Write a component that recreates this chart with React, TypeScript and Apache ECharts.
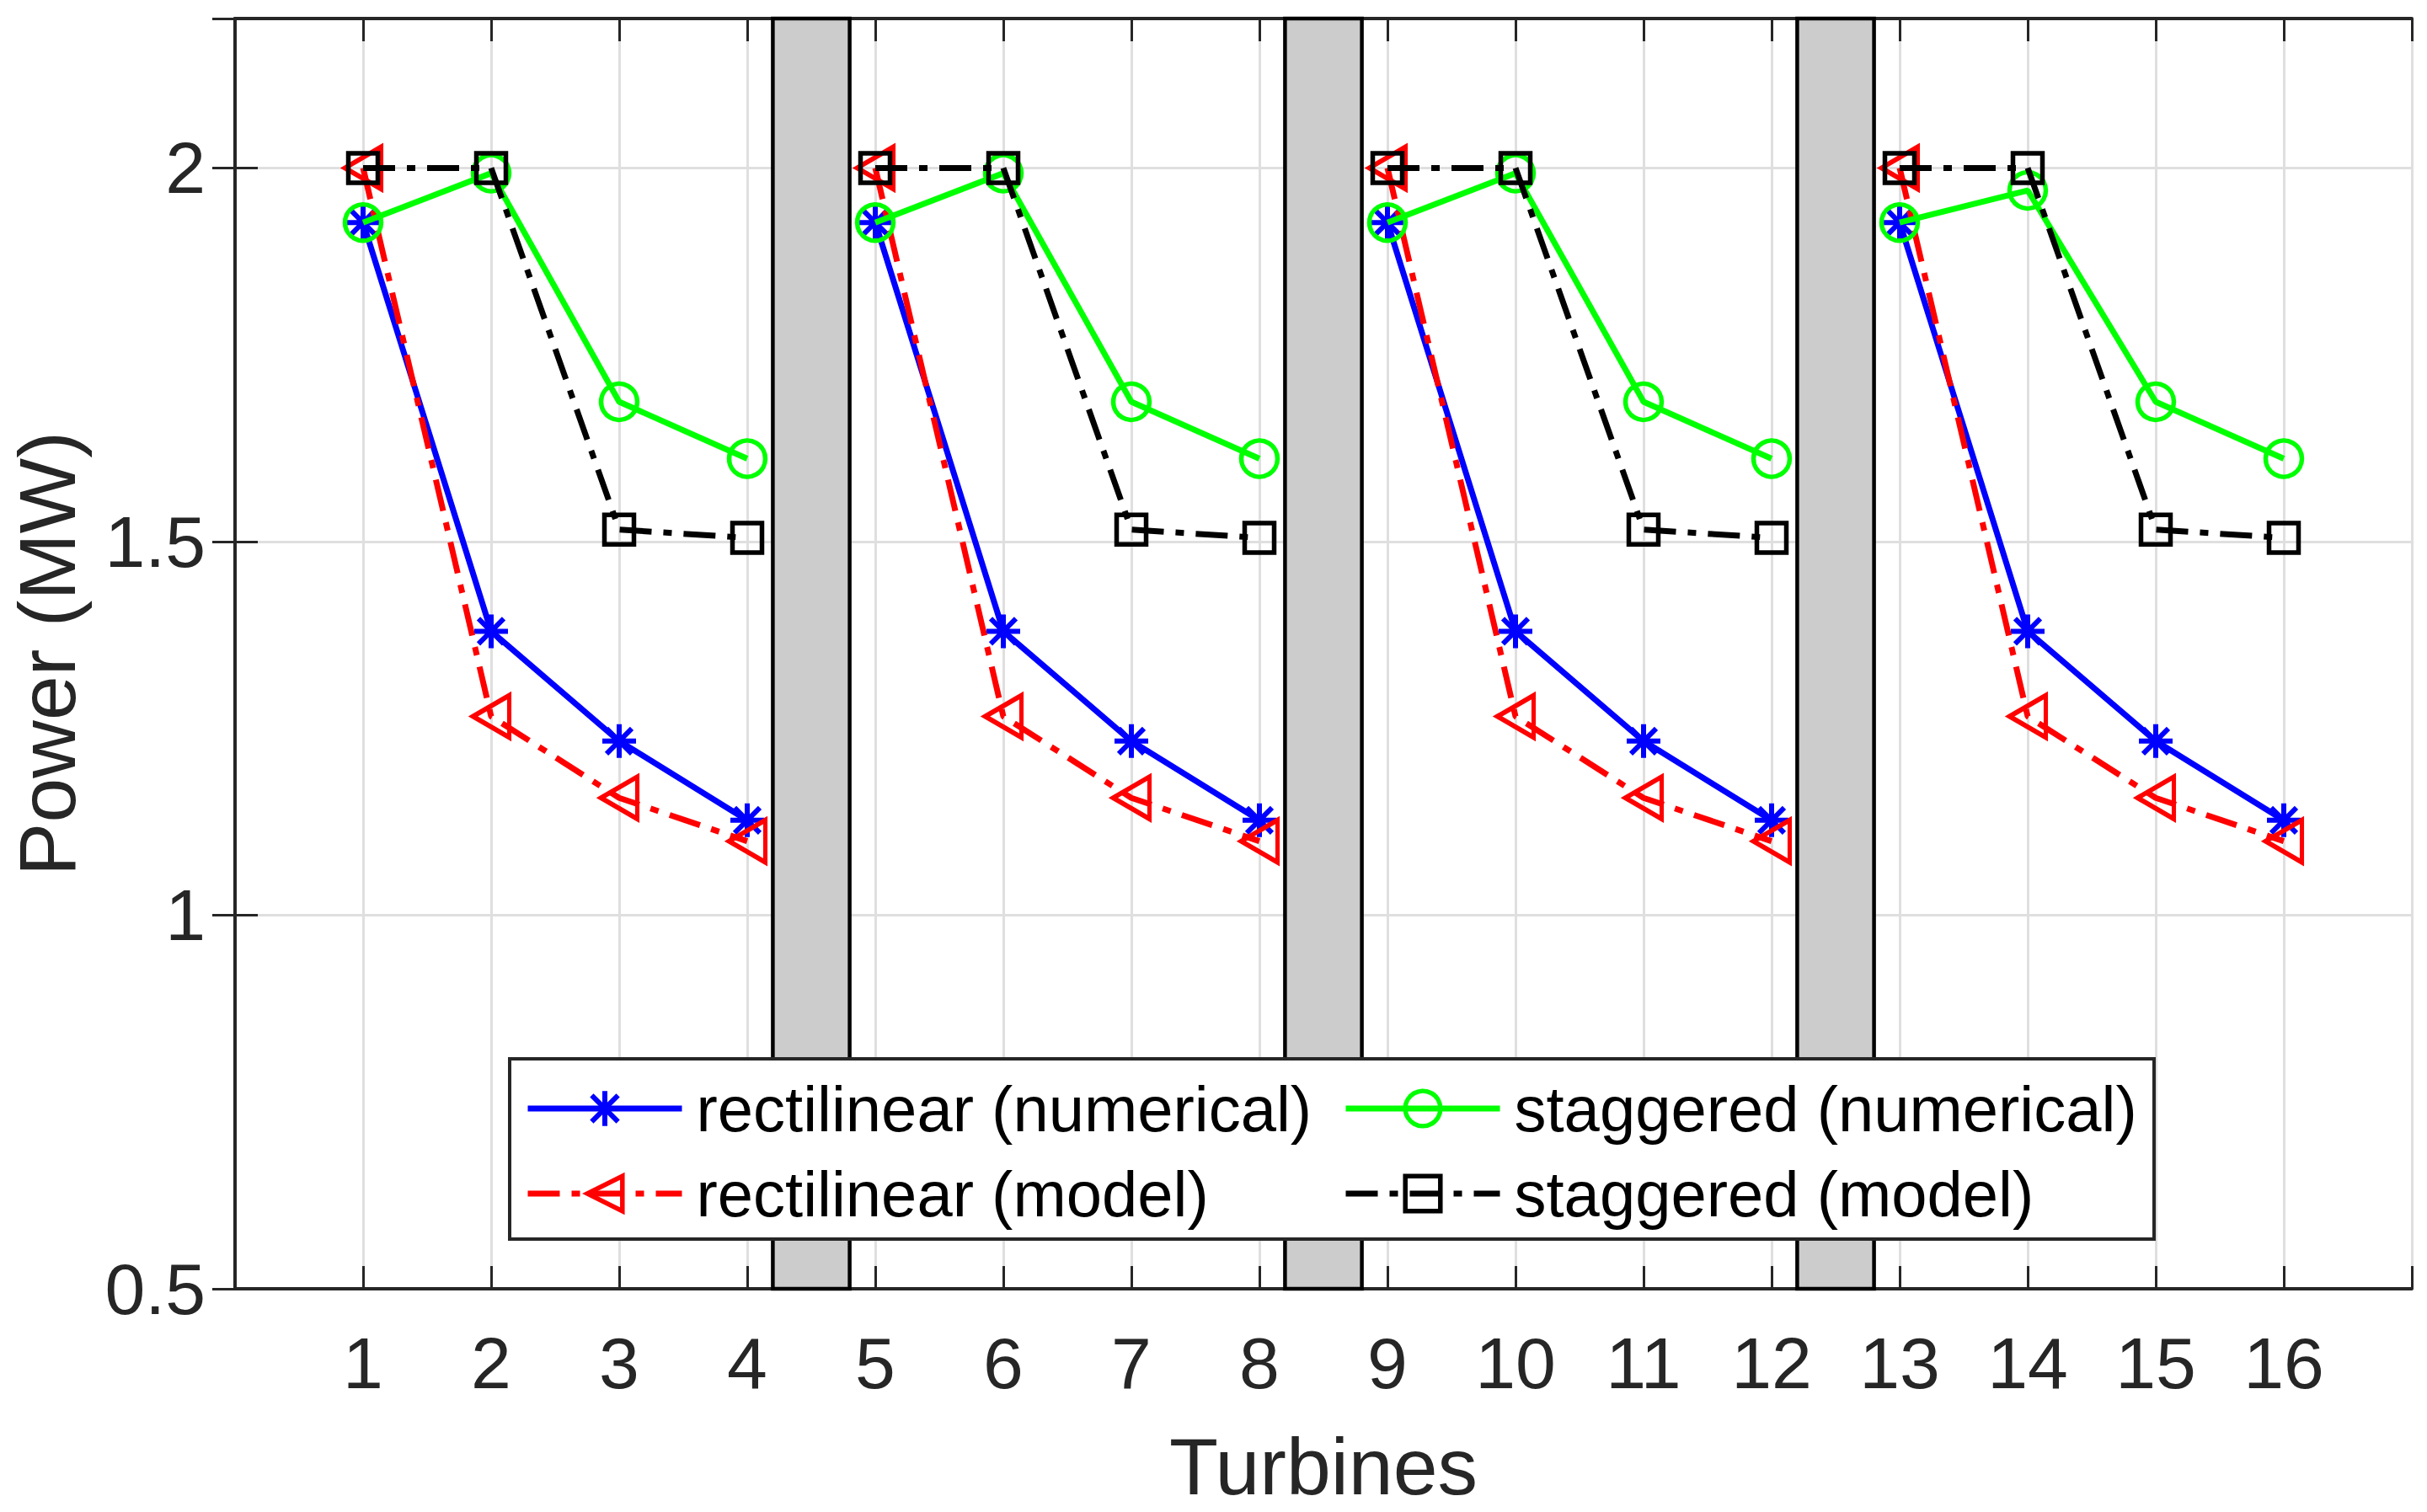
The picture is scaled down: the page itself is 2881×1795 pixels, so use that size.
import React, { useEffect, useRef } from "react";
import * as echarts from "echarts";

// ---- data ----
const turbines = [1, 2, 3, 4, 5, 6, 7, 8, 9, 10, 11, 12, 13, 14, 15, 16];
const xTickLabels = ["1", "2", "3", "4", "5", "6", "7", "8", "9", "10", "11", "12", "13", "14", "15", "16"];
const yTickValues = [0.5, 1, 1.5, 2];
const yTickLabels = ["0.5", "1", "1.5", "2"];
const groupSize = 4;

const rectilinearNumerical = [1.927, 1.38, 1.233, 1.127, 1.927, 1.38, 1.233, 1.127, 1.927, 1.38, 1.233, 1.127, 1.927, 1.38, 1.233, 1.127];
const rectilinearModel = [2.0, 1.266, 1.157, 1.099, 2.0, 1.266, 1.157, 1.099, 2.0, 1.266, 1.157, 1.099, 2.0, 1.266, 1.157, 1.099];
const staggeredNumerical = [1.927, 1.993, 1.687, 1.611, 1.927, 1.993, 1.687, 1.611, 1.927, 1.993, 1.687, 1.611, 1.927, 1.97, 1.687, 1.611];
const staggeredModel = [2.0, 2.0, 1.516, 1.505, 2.0, 2.0, 1.516, 1.505, 2.0, 2.0, 1.516, 1.505, 2.0, 2.0, 1.516, 1.505];

const seriesNames = [
  "rectilinear (numerical)",
  "rectilinear (model)",
  "staggered (numerical)",
  "staggered (model)",
];

const bandStarts = [4.2, 8.2, 12.2];
const bandEnds = [4.8, 8.8, 12.8];

// ---- styles ----
const FONT = '"Liberation Sans", Arial, Helvetica, sans-serif';
const AXIS_COLOR = "#262626";
const GRID_COLOR = "#dfdfdf";
const LINE_W = 7;
const DASH_DOT = [38, 14, 10, 14];
const ASTERISK = "path://M0,-10L0,10M-10,0L10,0M-7.5,-7.5L7.5,7.5M-7.5,7.5L7.5,-7.5";

function toPairs(values: number[]) {
  const out: any[] = [];
  values.forEach((v, i) => {
    if (i > 0 && i % groupSize === 0) {
      out.push([(turbines[i - 1] + turbines[i]) / 2, null]);
    }
    out.push([turbines[i], v]);
  });
  return out;
}

const styles = [
  { color: "#0000ff", dash: "solid" as any, symbol: ASTERISK, size: 40 as any, rotate: 0, fill: "#0000ff", bw: 6 },
  { color: "#ff0000", dash: DASH_DOT as any, symbol: "triangle", size: [50, 43] as any, rotate: 90, fill: "rgba(0,0,0,0)", bw: 5.5 },
  { color: "#00ff00", dash: "solid" as any, symbol: "circle", size: 43 as any, rotate: 0, fill: "rgba(0,0,0,0)", bw: 5.5 },
  { color: "#000000", dash: DASH_DOT as any, symbol: "rect", size: 35 as any, rotate: 0, fill: "rgba(0,0,0,0)", bw: 5.5 },
];

const allValues = [rectilinearNumerical, rectilinearModel, staggeredNumerical, staggeredModel];

export default function App() {
  const ref = useRef<HTMLDivElement>(null);

  useEffect(() => {
    document.body.style.margin = "0";
    document.body.style.overflow = "hidden";
    if (!ref.current) return;
    const chart = echarts.init(ref.current, undefined, { renderer: "svg" });

    const series: any[] = allValues.map((vals, i) => {
      const s = styles[i];
      const obj: any = {
        name: seriesNames[i],
        type: "line",
        xAxisIndex: 0,
        yAxisIndex: 0,
        data: toPairs(vals),
        connectNulls: false,
        showSymbol: true,
        symbol: s.symbol,
        symbolSize: s.size,
        symbolRotate: s.rotate,
        lineStyle: { color: s.color, width: LINE_W, type: s.dash },
        itemStyle: { color: s.fill, borderColor: s.color, borderWidth: s.bw },
        emphasis: { disabled: true },
        z: 2 + i * 0.1,
      };
      if (i === 0) {
        obj.markArea = {
          silent: true,
          label: { show: false },
          itemStyle: { color: "#cccccc", borderColor: "#000000", borderWidth: 4.5 },
          data: bandStarts.map((b, k) => [{ xAxis: b }, { xAxis: bandEnds[k] }]),
        };
      }
      return obj;
    });

    const legendItem = (i: number) => ({
      name: seriesNames[i],
      itemStyle: {
        color: styles[i].fill,
        borderColor: styles[i].color,
        borderWidth: styles[i].bw,
      },
      lineStyle: { color: styles[i].color, width: LINE_W, type: styles[i].dash },
    });

    const legendCommon = {
      orient: "vertical",
      top: 1278,
      padding: 0,
      itemWidth: 183,
      itemHeight: 52,
      itemGap: 25,
      z: 10,
      selectedMode: false,
      textStyle: {
        fontSize: 76,
        color: "#000000",
        fontFamily: FONT,
        padding: [0, 0, 0, 12],
      },
    };

    const xLabel = (v: number) => {
      const idx = turbines.indexOf(v);
      return idx >= 0 ? xTickLabels[idx] : "";
    };
    const yLabel = (v: number) => {
      const idx = yTickValues.findIndex((t) => Math.abs(t - v) < 1e-9);
      return idx >= 0 ? yTickLabels[idx] : "";
    };

    const axisLine = { show: true, lineStyle: { color: AXIS_COLOR, width: 4 } };
    const axisTick = { show: true, inside: true, length: 27, lineStyle: { color: AXIS_COLOR, width: 3 } };

    chart.setOption({
      animation: false,
      backgroundColor: "#ffffff",
      grid: { left: 278, right: 18, top: 22, bottom: 265, containLabel: false },
      xAxis: [
        {
          type: "value",
          position: "bottom",
          min: 0,
          max: 17,
          interval: 1,
          axisLine,
          axisTick,
          axisLabel: {
            fontSize: 86,
            color: AXIS_COLOR,
            fontFamily: FONT,
            margin: 45,
            formatter: xLabel,
          },
          splitLine: { show: true, lineStyle: { color: GRID_COLOR, width: 3 } },
          name: "Turbines",
          nameLocation: "middle",
          nameGap: 163,
          nameTextStyle: { fontSize: 95, color: AXIS_COLOR, fontFamily: FONT },
        },
        {
          type: "value",
          position: "top",
          min: 0,
          max: 17,
          interval: 1,
          axisLine,
          axisTick,
          axisLabel: { show: false },
          splitLine: { show: false },
        },
      ],
      yAxis: [
        {
          type: "value",
          position: "left",
          min: 0.5,
          max: 2.2,
          interval: 0.5,
          axisLine,
          axisTick,
          axisLabel: {
            fontSize: 86,
            color: AXIS_COLOR,
            fontFamily: FONT,
            margin: 35,
            formatter: yLabel,
            showMaxLabel: false,
          },
          splitLine: { show: true, lineStyle: { color: GRID_COLOR, width: 3 } },
          name: "Power (MW)",
          nameLocation: "middle",
          nameGap: 176,
          nameTextStyle: { fontSize: 95, color: AXIS_COLOR, fontFamily: FONT },
        },
        {
          type: "value",
          position: "right",
          min: 0.5,
          max: 2.2,
          interval: 0.5,
          axisLine,
          axisTick,
          axisLabel: { show: false },
          splitLine: { show: false },
        },
      ],
      legend: [
        { ...legendCommon, left: 623, data: [legendItem(0), legendItem(1)] },
        { ...legendCommon, left: 1594, data: [legendItem(2), legendItem(3)] },
      ],
      graphic: [
        {
          type: "rect",
          z: 8,
          shape: { x: 605, y: 1257, width: 1952, height: 214 },
          style: { fill: "#ffffff", stroke: AXIS_COLOR, lineWidth: 4 },
          silent: true,
        },
      ],
      series,
    });

    return () => chart.dispose();
  }, []);

  return <div ref={ref} style={{ width: "2881px", height: "1795px" }} />;
}
